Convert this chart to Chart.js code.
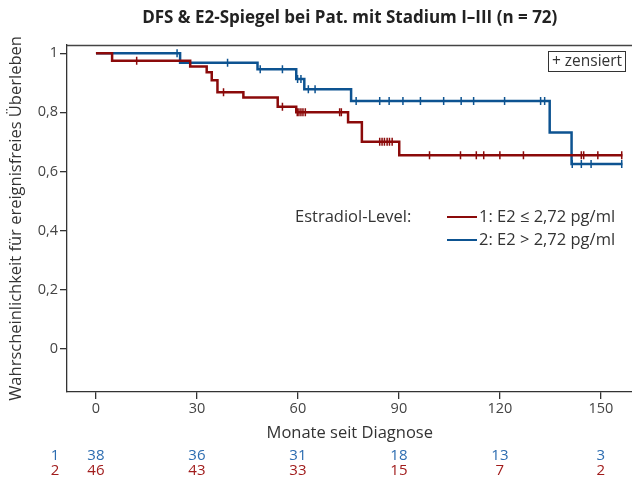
<!DOCTYPE html>
<html>
<head>
<meta charset="utf-8">
<script src="https://cdn.jsdelivr.net/npm/chart.js@4.4.1/dist/chart.umd.min.js"></script>
<style>
  html, body { margin: 0; padding: 0; background: #fff; overflow: hidden; }
  canvas { display: block; }
</style>
</head>
<body>
<!-- a bit wider than the window: Chart.js keeps ~5.5px spare on the right, which the reference doesn't have -->
<canvas id="kmChart" width="638" height="479"></canvas>
<script>
// --- data ---
const titleText = 'DFS & E2-Spiegel bei Pat. mit Stadium I–III (n = 72)';
const xTicks = [0, 30, 60, 90, 120, 150];
const yTicks = [0, 0.2, 0.4, 0.6, 0.8, 1];

// group 1 (red): E2 <= 2,72 pg/ml
const redTimes = [0, 4.8, 28.0, 32.9, 34.4, 36.1, 43.8, 54.0, 59.5, 74.9, 79.0, 90.1];
const redSurv  = [1, 0.975, 0.955, 0.936, 0.909, 0.868, 0.850, 0.819, 0.800, 0.766, 0.700, 0.655];
const redEnd = 156.4;
const redCensored = [12.1, 37.9, 55.4, 59.8, 60.3, 60.9, 61.5, 62.2, 72.4, 72.9,
                     84.3, 85.0, 85.7, 86.5, 87.2, 88.0, 99.1, 108.3, 113.0, 115.2,
                     120.0, 127.0, 144.2, 144.9, 149.1, 156.2];

// group 2 (blue): E2 > 2,72 pg/ml
const blueTimes = [0, 25.0, 48.0, 59.5, 61.9, 75.8, 134.8, 141.3];
const blueSurv  = [1, 0.968, 0.946, 0.913, 0.878, 0.838, 0.732, 0.625];
const blueEnd = 156.4;
const blueCensored = [24.1, 39.1, 48.8, 55.4, 59.9, 60.9, 63.1, 65.1, 77.3, 84.3,
                      87.1, 91.2, 96.4, 103.3, 108.5, 112.2, 121.4, 132.1, 133.3,
                      141.5, 144.2, 147.1, 156.2];

// number at risk
const riskTimes = [0, 30, 60, 90, 120, 150];
const riskBlue = [38, 36, 31, 18, 13, 3];
const riskRed = [46, 43, 33, 15, 7, 2];

const redColor = '#8b0a0a';
const blueColor = '#0d5391';
const redText = '#a11c1c';
const blueText = '#2c6cb0';
const fontFamily = '"Open Sans", "Noto Sans", sans-serif';

Chart.defaults.font.family = fontFamily;
Chart.defaults.color = '#333';

function levelAt(times, surv, t) {
    let s = surv[0];
    for (let i = 0; i < times.length; i++) {
        if (times[i] <= t) s = surv[i];
    }
    return s;
}

function stepPoints(times, surv, end) {
    const pts = times.map((t, i) => ({ x: t, y: surv[i] }));
    pts.push({ x: end, y: surv[surv.length - 1] });
    return pts;
}

function censorPoints(times, surv, cens) {
    return cens.map((t) => ({ x: t, y: levelAt(times, surv, t) }));
}

// extra drawing: top frame line, legend, censor box, number-at-risk rows
const extras = {
    id: 'extras',
    afterDraw(chart) {
        const ctx = chart.ctx;
        const area = chart.chartArea;
        const xs = chart.scales.x;
        ctx.save();

        // top frame line
        ctx.strokeStyle = '#444';
        ctx.lineWidth = 1.3;
        ctx.beginPath();
        ctx.moveTo(area.left, area.top + 0.5);
        ctx.lineTo(area.right, area.top + 0.5);
        ctx.stroke();

        // censor box
        ctx.lineWidth = 1;
        ctx.strokeStyle = '#333';
        ctx.strokeRect(548.5, 51.5, 77, 20);
        ctx.fillStyle = '#333';
        ctx.font = '15.5px ' + fontFamily;
        ctx.textAlign = 'center';
        ctx.textBaseline = 'middle';
        ctx.fillText('+ zensiert', 587, 62);

        // legend
        ctx.font = '16.5px ' + fontFamily;
        ctx.textAlign = 'left';
        ctx.fillText('Estradiol-Level:', 295, 217);
        ctx.lineWidth = 2;
        ctx.strokeStyle = redColor;
        ctx.beginPath(); ctx.moveTo(447, 217); ctx.lineTo(477, 217); ctx.stroke();
        ctx.strokeStyle = blueColor;
        ctx.beginPath(); ctx.moveTo(447, 240); ctx.lineTo(477, 240); ctx.stroke();
        ctx.fillText('1: E2 \u2264 2,72 pg/ml', 479, 217);
        ctx.fillText('2: E2 > 2,72 pg/ml', 479, 240);

        // number at risk
        ctx.font = '15px ' + fontFamily;
        ctx.textAlign = 'center';
        ctx.fillStyle = blueText;
        ctx.fillText('1', 55, 456);
        riskTimes.forEach((t, i) => ctx.fillText(String(riskBlue[i]), xs.getPixelForValue(t), 456));
        ctx.fillStyle = redText;
        ctx.fillText('2', 55, 471);
        riskTimes.forEach((t, i) => ctx.fillText(String(riskRed[i]), xs.getPixelForValue(t), 471));

        ctx.restore();
    }
};

const ctx = document.getElementById('kmChart').getContext('2d');
new Chart(ctx, {
    type: 'scatter',
    data: {
        datasets: [
            {
                label: 'zensiert 1',
                data: censorPoints(redTimes, redSurv, redCensored),
                pointStyle: 'line',
                rotation: 90,
                radius: 4,
                borderWidth: 1.5,
                borderColor: redColor,
                backgroundColor: redColor,
                showLine: false,
            },
            {
                label: 'zensiert 2',
                data: censorPoints(blueTimes, blueSurv, blueCensored),
                pointStyle: 'line',
                rotation: 90,
                radius: 4,
                borderWidth: 1.5,
                borderColor: blueColor,
                backgroundColor: blueColor,
                showLine: false,
            },
            {
                label: '1: E2 \u2264 2,72 pg/ml',
                data: stepPoints(redTimes, redSurv, redEnd),
                showLine: true,
                stepped: 'before',
                borderColor: redColor,
                borderWidth: 2.5,
                pointRadius: 0,
                fill: false,
            },
            {
                label: '2: E2 > 2,72 pg/ml',
                data: stepPoints(blueTimes, blueSurv, blueEnd),
                showLine: true,
                stepped: 'before',
                borderColor: blueColor,
                borderWidth: 2.5,
                pointRadius: 0,
                fill: false,
            },
        ],
    },
    options: {
        responsive: false,
        animation: false,
        events: [],
        layout: { padding: 0 },
        plugins: {
            legend: { display: false },
            tooltip: { enabled: false },
            title: {
                display: true,
                text: titleText,
                fullSize: false,
                color: '#222',
                font: { size: 17, weight: 'bold', lineHeight: 1.2 },
                padding: { top: 7.5, bottom: 17.1 },
            },
        },
        scales: {
            x: {
                type: 'linear',
                min: -8.6,
                max: 159.4,
                afterBuildTicks: (scale) => { scale.ticks = xTicks.map((v) => ({ value: v })); },
                afterFit: (scale) => {
                    scale.height = 87;
                    scale.paddingLeft = 0;
                    scale.paddingRight = 0;
                },
                ticks: {
                    color: '#444',
                    font: { size: 14.5 },
                    padding: 1,
                    maxRotation: 0,
                },
                grid: {
                    drawOnChartArea: false,
                    drawTicks: true,
                    tickLength: 7,
                    color: '#333',
                    lineWidth: 1.3,
                },
                border: { display: true, color: '#333', width: 1.3 },
                title: {
                    display: true,
                    text: 'Monate seit Diagnose',
                    color: '#333',
                    font: { size: 16.5, lineHeight: 1.2 },
                    padding: { top: 0, bottom: 36 },
                },
            },
            y: {
                type: 'linear',
                min: -0.147,
                max: 1.028,
                afterBuildTicks: (scale) => { scale.ticks = yTicks.map((v) => ({ value: v })); },
                afterFit: (scale) => {
                    scale.width = 67;
                    scale.paddingTop = 0;
                    scale.paddingBottom = 0;
                },
                ticks: {
                    color: '#444',
                    font: { size: 14.5 },
                    padding: 2,
                    callback: (v) => String(Math.round(v * 10) / 10).replace('.', ','),
                },
                grid: {
                    drawOnChartArea: false,
                    drawTicks: true,
                    tickLength: 7,
                    color: '#333',
                    lineWidth: 1.3,
                },
                border: { display: true, color: '#333', width: 1.3 },
                title: {
                    display: true,
                    text: 'Wahrscheinlichkeit für ereignisfreies Überleben',
                    color: '#333',
                    font: { size: 16.5, lineHeight: 1.2 },
                    padding: { top: 6, bottom: 0 },
                },
            },
        },
    },
    plugins: [extras],
});
</script>
</body>
</html>
